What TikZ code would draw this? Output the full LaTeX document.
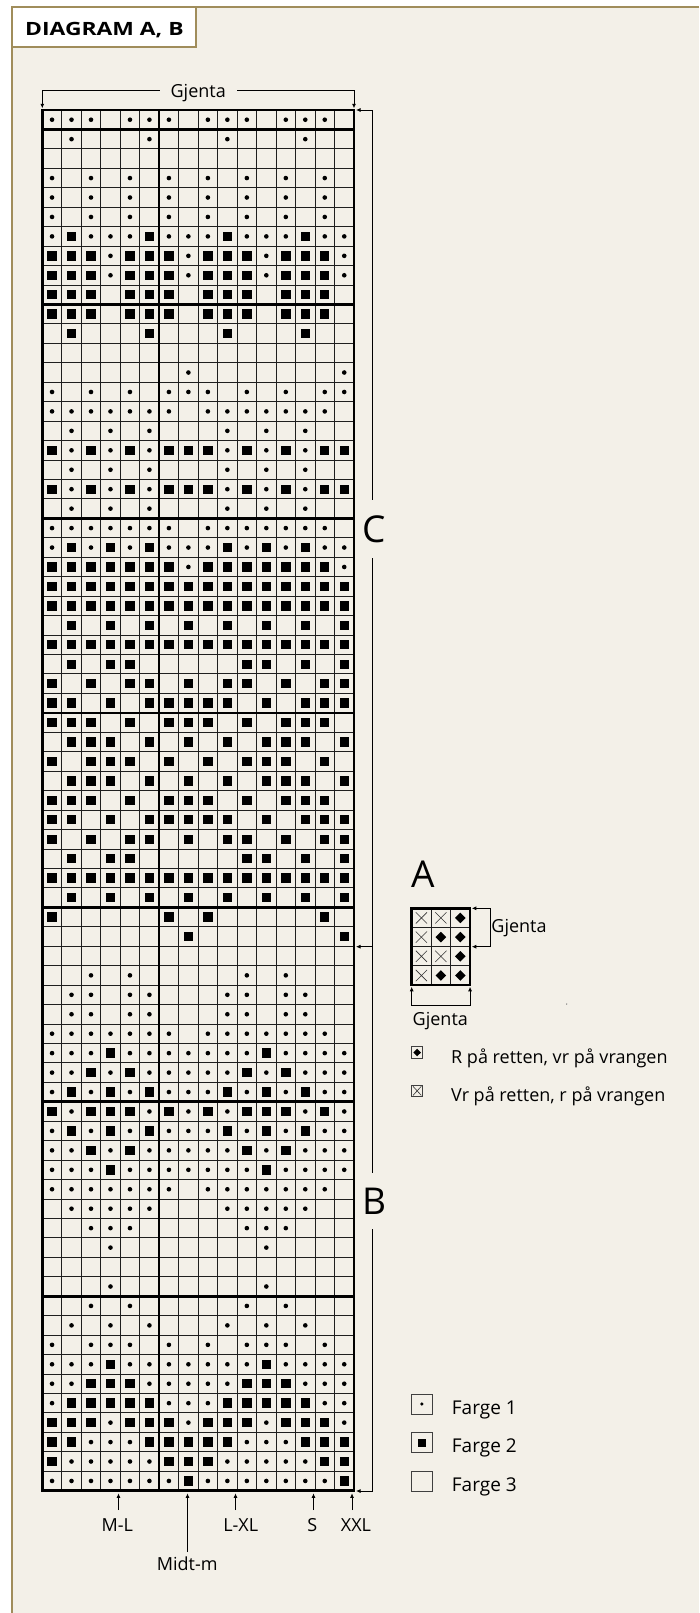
\documentclass[tikz,border=0pt]{standalone}
\usepackage{fontspec}
\setmainfont{Open Sans}
\newfontfamily\titlefont{Open Sans}[FakeStretch=1.25]
\usetikzlibrary{arrows.meta}
\definecolor{cream}{HTML}{F3F0E8}
\definecolor{gold}{HTML}{A08D5B}
\newcount\kcol
\newcount\krow
\def\gx{42.3}\def\gy{110}\def\cellw{19.48}\def\cellh{19.446}
\def\agx{411.7}\def\agy{908.3}\def\agw{19.45}\def\agh{19.2}
\def\parsechars#1{\ifx#1\relax\else\global\advance\kcol by 1 \placesym#1\expandafter\parsechars\fi}
\def\placesym#1{%
  \pgfmathsetmacro\symx{\gx+(\the\kcol-0.5)*\cellw}%
  \pgfmathsetmacro\symy{\gy+(\the\krow-0.5)*\cellh}%
  \if#1o\fill (\symx,\symy) circle[radius=2.3pt];\fi
  \if#1x\fill ({\symx-4.7},{\symy-4.7}) rectangle ({\symx+4.7},{\symy+4.7});\fi}
\tikzset{
  thinln/.style={line width=0.9pt, draw=black!88},
  thickln/.style={line width=2.6pt, draw=black},
  brk/.style={line width=0.8pt, draw=black},
  tip/.tip={Latex[length=4.5pt,width=4pt]},
  lbl/.style={font=\fontsize{18}{20}\selectfont, inner sep=0pt},
  lblb/.style={font=\fontsize{19}{21}\selectfont, inner sep=0pt},
  big/.style={font=\fontsize{37}{40}\selectfont, inner sep=0pt},
  xmark/.style={line width=0.6pt, draw=black!80},
}
\begin{document}
\begin{tikzpicture}[x=1pt,y=-1pt]
\useasboundingbox (0,0) rectangle (699,1613);
\fill[white] (0,0) rectangle (699,1613);
\fill[cream] (12,7) rectangle (699,1613);
\draw[gold, line width=1.5pt] (699,7) -- (12,7) -- (12,1613);
% title
\draw[gold, line width=1.3pt, fill=white] (12,7) rectangle (196,47);
\node[anchor=base west, inner sep=0pt, font=\titlefont\bfseries\fontsize{18.3}{20}\selectfont] (title) at (25,36) {DIAGRAM A, B};
% chart symbols
\foreach \rs [count=\ri] in {
ooo-ooo-ooo-ooo-,
-o---o---o---o--,
----------------,
o-o-o-o-o-o-o-o-,
o-o-o-o-o-o-o-o-,
o-o-o-o-o-o-o-o-,
oxoooxoooxoooxoo,
xxxoxxxoxxxoxxxo,
xxxoxxxoxxxoxxxo,
xxx-xxx-xxx-xxx-,
xxx-xxx-xxx-xxx-,
-x---x---x---x--,
----------------,
-------o-------o,
o-o-o-ooo-o-o-oo,
ooooooo-ooooooo-,
-o-o-o---o-o-o--,
xoxoxoxxxoxoxoxx,
-o-o-o---o-o-o--,
xoxoxoxxxoxoxoxx,
-o-o-o---o-o-o--,
ooooooo-ooooooo-,
oxoxoxoooxoxoxoo,
xxxxxxxoxxxxxxxo,
xxxxxxxxxxxxxxxx,
xxxxxxxxxxxxxxxx,
-x-x-x-x-x-x-x-x,
xxxxxxxxxxxxxxxx,
-x-xx-----xx-x-x,
x-x-xx-x-xx-x-xx,
xx-x-xxxxx-x-xxx,
xxx-x-xxx-x-xxx-,
-xxx-x-x-x-xxx-x,
x-xxx-x-x-xxx-x-,
-xxx-x-x-x-xxx-x,
xxx-x-xxx-x-xxx-,
xx-x-xxxxx-x-xxx,
x-x-xx-x-xx-x-xx,
-x-xx-----xx-x-x,
xxxxxxxxxxxxxxxx,
-x-x-x-x-x-x-x-x,
x-----x-x-----x-,
-------x-------x,
----------------,
--o-o-----o-o---,
-oo-oo---oo-oo--,
-oo-oo---oo-oo--,
ooooooo-ooooooo-,
oooxoooooooxoooo,
ooxoxoooooxoxooo,
oxoxoxoooxoxoxoo,
xoxxxoxoxoxxxoxo,
oxoxoxoooxoxoxoo,
ooxoxoooooxoxooo,
oooxoooooooxoooo,
ooooooo-ooooooo-,
-ooooo---ooooo--,
--ooo-----ooo---,
---o-------o----,
----------------,
---o-------o----,
--o-o-----o-o---,
-o-o-o---o-o-o--,
o-ooo-o-o-ooo-o-,
oooxoooooooxoooo,
ooxxxoooooxxxooo,
oxxxxxoooxxxxxoo,
xxxoxxxoxxxoxxxo,
xxoooxxxxxoooxxx,
xoooooxxxoooooxx,
oooooooxooooooox}{\global\kcol=0 \global\krow=\ri\relax\expandafter\parsechars\rs\relax}
% chart grid
\foreach \c in {1,...,15}{\draw[thinln] ({\gx+\c*\cellw},\gy) -- ++(0,{71*\cellh});}
\foreach \r in {1,...,70}{\draw[thinln] (\gx,{\gy+\r*\cellh}) -- ++({16*\cellw},0);}
\foreach \r in {1,10,21,31,41,51,61}{\draw[thickln] (\gx,{\gy+\r*\cellh}) -- ++({16*\cellw},0);}
\draw[thickln] ({\gx+6*\cellw},\gy) -- ++(0,{71*\cellh});
\draw[thickln] (\gx,\gy) rectangle ++({16*\cellw},{71*\cellh});
% top Gjenta bracket
\coordinate (gtl) at (\gx,108.3);
\coordinate (gtr) at (354,108.3);
\draw[brk, tip-tip] (gtl) -- ++(0,-17.6) -| (gtr);
\node[lbl, anchor=base, fill=cream, inner xsep=11pt, inner ysep=2pt] (gj) at (198.2,97.7) {Gjenta};
% right C/B bracket
\coordinate (ctop) at (356,110);
\coordinate (cmid) at (356,946.7);
\coordinate (cbot) at (356,1491);
\draw[brk, tip-tip] (ctop) -- ++(16,0) |- (cmid);
\draw[brk, -tip] (cmid) ++(16,0) |- (cbot);
\node[big, fill=cream, inner ysep=15pt, inner xsep=1pt] (labC) at (374,529) {C};
\node[big, fill=cream, inner ysep=15pt, inner xsep=1pt] (labB) at (374,1201) {B};
% bottom size arrows
\foreach \n/\xx/\yy in {ml/118.5/1510, mm/187.5/1552, lxl/235.5/1510, s/313.5/1510, xxl/352/1510}{
  \coordinate (\n-b) at (\xx,\yy);
  \coordinate (\n-t) at (\xx,1493.3);
  \draw[brk, -tip] (\n-b) -- (\n-t);
}
\node[lbl, anchor=base] (tml) at (117.3,1531.7) {M-L};
\node[lbl, anchor=base] (tmm) at (187.2,1570.7) {Midt-m};
\node[lbl, anchor=base] (tlxl) at (240.7,1531.7) {L-XL};
\node[lbl, anchor=base] (ts) at (312.3,1531.7) {S};
\node[lbl, anchor=base] (txxl) at (356,1531.7) {XXL};
% diagram A
\node[big, anchor=base west] (labA) at (411,887.3) {A};
\foreach \c/\r/\typ in {1/1/c,2/1/c,3/1/d,1/2/c,2/2/d,3/2/d,1/3/c,2/3/c,3/3/d,1/4/c,2/4/d,3/4/d}{
  \pgfmathsetmacro\qx{\agx+(\c-0.5)*\agw}
  \pgfmathsetmacro\qy{\agy+(\r-0.5)*\agh}
  \if\typ c\draw[xmark] ({\qx-5.6},{\qy-5.6}) -- ({\qx+5.6},{\qy+5.6}) ({\qx-5.6},{\qy+5.6}) -- ({\qx+5.6},{\qy-5.6});\fi
  \if\typ d\fill (\qx,{\qy-5.3}) -- ({\qx+5.3},\qy) -- (\qx,{\qy+5.3}) -- ({\qx-5.3},\qy) -- cycle;\fi
}
\foreach \c in {1,2}{\draw[thinln] ({\agx+\c*\agw},\agy) -- ++(0,{4*\agh});}
\foreach \r in {1,2,3}{\draw[thinln] (\agx,{\agy+\r*\agh}) -- ++({3*\agw},0);}
\draw[thickln] (\agx,\agy) rectangle ++({3*\agw},{4*\agh});
\coordinate (ar1) at (471.8,908.3);
\coordinate (ar2) at (471.8,946.7);
\draw[brk, tip-tip] (ar1) -- ++(18.2,0) |- (ar2);
\node[lbl, anchor=base west] (agr) at (491.2,932.7) {Gjenta};
\coordinate (ab1) at (411.7,986.8);
\coordinate (ab2) at (470.05,986.8);
\draw[brk, tip-tip] (ab1) -- ++(0,18.2) -| (ab2);
\node[lbl, anchor=base west] (agb) at (412.5,1025) {Gjenta};
\fill[black!60] (566.7,1004) circle[radius=0.7pt];
% legend A
\draw[line width=0.7pt, draw=black!75] (411.7,1046.7) rectangle (422.6,1058.3);
\fill (417.15,1048.7) -- (421,1052.5) -- (417.15,1056.3) -- (413.3,1052.5) -- cycle;
\node[lbl, anchor=base west] (lg1) at (451,1063.3) {R på retten, vr på vrangen};
\draw[line width=0.7pt, draw=black!75] (411.7,1085) rectangle (422.6,1096.7);
\draw[xmark] (413,1086.3) -- (421.3,1095.4) (413,1095.4) -- (421.3,1086.3);
\node[lbl, anchor=base west] (lg2) at (451,1101.7) {Vr på retten, r på vrangen};
% legend colours
\draw[line width=0.8pt, draw=black!75] (411.7,1394) rectangle (432,1414);
\fill (421.85,1404) circle[radius=1.8pt];
\node[lblb, anchor=base west] (f1) at (451.7,1414.3) {Farge 1};
\draw[line width=0.8pt, draw=black!75] (411.7,1432.7) rectangle (432,1452.7);
\fill (417.7,1438.7) rectangle (426,1446.9);
\node[lblb, anchor=base west] (f2) at (451.7,1452.7) {Farge 2};
\draw[line width=0.8pt, draw=black!75] (411.7,1471.7) rectangle (432,1491.7);
\node[lblb, anchor=base west] (f3) at (451.7,1491.7) {Farge 3};
\end{tikzpicture}
\end{document}
